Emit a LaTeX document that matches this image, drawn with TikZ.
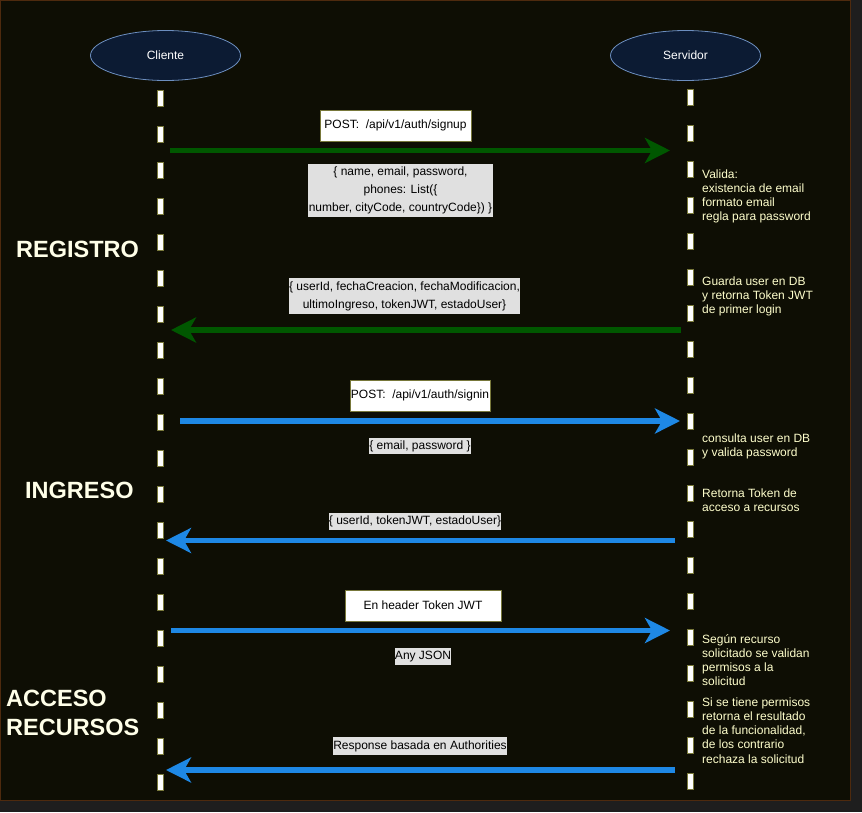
\documentclass[tikz,border=0pt]{standalone}
\usepackage{fontspec}
\setmainfont{Liberation Sans}
\usetikzlibrary{shapes.geometric,arrows.meta}
\definecolor{outerc}{HTML}{1E1E1E}
\definecolor{bgc}{HTML}{0E0E04}
\definecolor{framec}{HTML}{4E2A0E}
\definecolor{ellfill}{HTML}{0C1B33}
\definecolor{elldraw}{HTML}{6C8EBF}
\definecolor{lifeedge}{HTML}{7A7A3C}
\definecolor{greenc}{HTML}{005700}
\definecolor{bluec}{HTML}{1E88E5}
\definecolor{notec}{HTML}{FFFFCC}
\definecolor{headc}{HTML}{FFFFE8}
\definecolor{grayc}{HTML}{E0E0E0}
\definecolor{wboxedge}{HTML}{77773A}
\begin{document}
\begin{tikzpicture}[x=1pt,y=-1pt,
  actor/.style={ellipse, minimum width=150pt, minimum height=50pt, fill=ellfill, draw=elldraw, line width=0.8pt, text=white, font=\fontsize{12}{14}\selectfont, inner sep=0pt},
  lifeouter/.style={draw=lifeedge, line width=7pt, dash pattern=on 17pt off 19pt},
  lifeinner/.style={draw=white, line width=5pt, dash pattern=on 15pt off 21pt, dash phase=35pt},
  msg/.style={line width=5.5pt, -{Stealth[length=25pt,width=25pt,inset=7pt]}},
  greenmsg/.style={msg, draw=greenc, fill=greenc},
  bluemsg/.style={msg, draw=bluec, fill=bluec},
  wbox/.style={fill=white, draw=wboxedge, line width=0.8pt, text=black, font=\fontsize{12}{14}\selectfont, inner sep=0pt},
  gbox/.style={fill=grayc, text=black, font=\fontsize{12}{18}\selectfont, inner sep=0pt, align=center},
  note/.style={text=notec, font=\fontsize{12}{14.2}\selectfont, align=left, anchor=north west, inner sep=0pt},
  head/.style={text=headc, font=\fontsize{23.5}{29}\selectfont\bfseries, align=left, inner sep=0pt}
]
\useasboundingbox (0,0) rectangle (862,812);
\fill[outerc] (0,0) rectangle (862,812);
\filldraw[fill=bgc, draw=framec, line width=1pt] (0.5,0.5) rectangle (850.5,800.5);

% actors
\node[actor] (cli) at (165.5,55.5) {Cliente};
\node[actor] (srv) at (685.5,55.5) {Servidor};

% lifelines
\coordinate (cliTop) at (160.5,90);
\coordinate (cliBot) at (160.5,791);
\coordinate (srvTop) at (690.5,89);
\coordinate (srvBot) at (690.5,790);
\draw[lifeouter] (cliTop) -- (cliBot);
\draw[lifeinner] (cliTop) -- (cliBot);
\draw[lifeouter] (srvTop) -- (srvBot);
\draw[lifeinner] (srvTop) -- (srvBot);

% message end points
\coordinate (m1a) at (170,150.5);  \coordinate (m1b) at (670,150.5);
\coordinate (m2a) at (681,330);    \coordinate (m2b) at (171,330);
\coordinate (m3a) at (180,421);    \coordinate (m3b) at (680,421);
\coordinate (m4a) at (675,540.5);  \coordinate (m4b) at (166,540.5);
\coordinate (m5a) at (171,630.5);  \coordinate (m5b) at (670,630.5);
\coordinate (m6a) at (675,770);    \coordinate (m6b) at (166,770);

\draw[greenmsg] (m1a) -- (m1b);
\draw[greenmsg] (m2a) -- (m2b);
\draw[bluemsg] (m3a) -- (m3b);
\draw[bluemsg] (m4a) -- (m4b);
\draw[bluemsg] (m5a) -- (m5b);
\draw[bluemsg] (m6a) -- (m6b);

% message labels
\node[wbox, minimum width=151pt, minimum height=31pt] (l1) at (395.5,125.5) {POST:\ \ /api/v1/auth/signup};
\node[gbox, minimum width=185pt, minimum height=53pt] (l1b) at (400.5,190.5) {\{ name, email, password,\\ phones: List(\{\\ number, cityCode, countryCode\}) \}};
\node[gbox, minimum width=231pt, minimum height=36pt] (l2) at (404.5,296) {\{ userId, fechaCreacion, fechaModificacion,\\ ultimoIngreso, tokenJWT, estadoUser\}};
\node[wbox, minimum width=140pt, minimum height=31pt] (l3) at (420,395.5) {POST:\ \ /api/v1/auth/signin};
\node[gbox, minimum width=102pt, minimum height=16pt] (l3b) at (420,446) {\{ email, password \}};
\node[gbox, minimum width=172pt, minimum height=17pt] (l4) at (415,521) {\{ userId, tokenJWT, estadoUser\}};
\node[wbox, minimum width=156pt, minimum height=31pt] (l5) at (423,605.5) {En header Token JWT};
\node[gbox, minimum width=56pt, minimum height=17pt] (l5b) at (423,656.5) {Any JSON};
\node[gbox, minimum width=172pt, minimum height=18pt] (l6) at (420,746) {Response basada en Authorities};

% server notes
\node[note] (n1) at (702,169.4) {Valida:\\ existencia de email\\ formato email\\ regla para password};
\node[note] (n2) at (702,276.4) {Guarda user en DB\\ y retorna Token JWT\\ de primer login};
\node[note] (n3) at (702,433.4) {consulta user en DB\\ y valida password};
\node[note] (n4) at (702,488.4) {Retorna Token de\\ acceso a recursos};
\node[note] (n5) at (702,634.2) {Según recurso\\ solicitado se validan\\ permisos a la\\ solicitud};
\node[note] (n6) at (702,697.4) {Si se tiene permisos\\ retorna el resultado\\ de la funcionalidad,\\ de los contrario\\ rechaza la solicitud};

% section headings
\node[head, anchor=base west] (h1) at (16,257) {REGISTRO};
\node[head, anchor=base west] (h2) at (25,498) {INGRESO};
\node[head, anchor=north west] (h3) at (6,690.2) {ACCESO\\ RECURSOS};
\end{tikzpicture}
\end{document}
